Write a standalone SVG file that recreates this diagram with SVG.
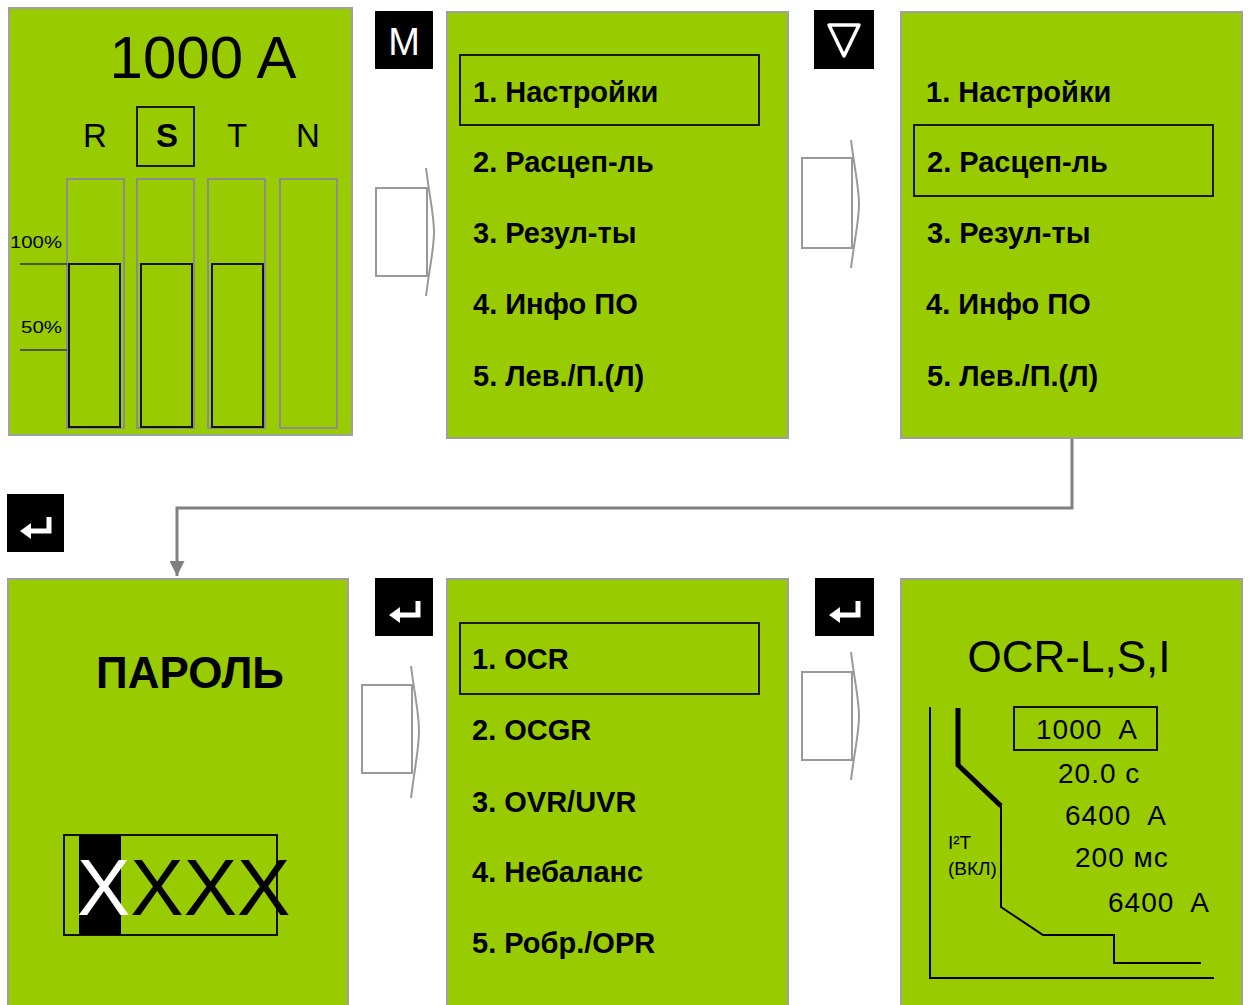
<svg xmlns="http://www.w3.org/2000/svg" width="1249" height="1005" viewBox="0 0 1249 1005">
<defs>
<style>
.panel{fill:#99cc00;stroke:#a0a0a0;stroke-width:2}
.t{font-family:"Liberation Sans",Arial,sans-serif;fill:#000}
.mi{font-family:"Liberation Sans",Arial,sans-serif;font-size:29px;font-weight:bold;fill:#000}
.sel{fill:none;stroke:#1a1a1a;stroke-width:2}
.gbar{fill:none;stroke:#8c8c8c;stroke-width:2}
.bbar{fill:none;stroke:#111;stroke-width:2}
.icon{fill:#000}
.blk{fill:#fff;stroke:#999;stroke-width:2}
.chev{fill:none;stroke:#999;stroke-width:2}
.val{font-family:"Liberation Sans",Arial,sans-serif;font-size:28px;letter-spacing:1px;fill:#000}
</style>
<marker id="ah" viewBox="0 0 10 10" refX="10" refY="5" markerWidth="5" markerHeight="5" orient="auto" markerUnits="strokeWidth">
<path d="M0,0 L10,5 L0,10 z" fill="#808080"/>
</marker>
</defs>
<rect width="1249" height="1005" fill="#fff"/>

<g id="connectors">
<path d="M1072,438 V508 H177 V576" fill="none" stroke="#808080" stroke-width="3" marker-end="url(#ah)"/>
<g id="arrow1"><path class="blk" d="M376,188 H427 V276 H376 Z"/><path class="chev" d="M426,168 C430,200 434,215 434,232 C434,249 430,264 426,296"/></g>
<g id="arrow2"><path class="blk" d="M802,158 H852 V248 H802 Z"/><path class="chev" d="M851,140 C855,172 859,187 859,204 C859,221 855,236 851,268"/></g>
<g id="arrow3"><path class="blk" d="M362,685 H412 V773 H362 Z"/><path class="chev" d="M411,666 C415,698 419,713 419,731 C419,749 415,765 411,798"/></g>
<g id="arrow4"><path class="blk" d="M802,672 H852 V760 H802 Z"/><path class="chev" d="M851,652 C855,684 859,699 859,716 C859,733 855,748 851,780"/></g>
</g>

<g id="icon-m"><rect class="icon" x="375" y="11" width="58" height="58"/><text class="t" x="404" y="55" font-size="38" text-anchor="middle" style="fill:#fff">M</text></g>
<g id="icon-down"><rect class="icon" x="814" y="10" width="60" height="59"/><path d="M829,25 H859 L844,56 Z" fill="none" stroke="#fff" stroke-width="3.5" stroke-linejoin="round"/></g>
<g id="icon-enter1"><rect class="icon" x="7" y="494" width="57" height="58"/><path d="M49,517 V531 H29" fill="none" stroke="#fff" stroke-width="5"/><path d="M20,531 L31,523 V539 Z" fill="#fff"/></g>
<g id="icon-enter2"><rect class="icon" x="375" y="578" width="58" height="58"/><path d="M418,601 V615 H398" fill="none" stroke="#fff" stroke-width="5"/><path d="M389,615 L400,607 V623 Z" fill="#fff"/></g>
<g id="icon-enter3"><rect class="icon" x="815" y="578" width="59" height="58"/><path d="M858,601 V615 H838" fill="none" stroke="#fff" stroke-width="5"/><path d="M829,615 L840,607 V623 Z" fill="#fff"/></g>

<g id="panel-current">
<rect class="panel" x="9" y="8" width="343" height="427"/>
<text class="t" x="203" y="78" font-size="60" text-anchor="middle">1000 A</text>
<rect class="sel" x="137" y="107" width="57" height="59"/>
<text class="t" x="95" y="147" font-size="33" text-anchor="middle">R</text>
<text class="t" x="167" y="147" font-size="33" font-weight="bold" text-anchor="middle">S</text>
<text class="t" x="237" y="147" font-size="33" text-anchor="middle">T</text>
<text class="t" x="308" y="147" font-size="33" text-anchor="middle">N</text>
<rect class="gbar" x="67" y="179" width="57" height="249"/>
<rect class="gbar" x="137" y="179" width="57" height="249"/>
<rect class="gbar" x="208" y="179" width="57" height="249"/>
<rect class="gbar" x="280" y="179" width="57" height="249"/>
<rect class="bbar" x="69" y="264" width="51" height="163"/>
<rect class="bbar" x="141" y="264" width="51" height="163"/>
<rect class="bbar" x="212" y="264" width="51" height="163"/>
<line x1="20" y1="264" x2="67" y2="264" stroke="#333" stroke-width="1.5"/>
<line x1="20" y1="350" x2="67" y2="350" stroke="#333" stroke-width="1.5"/>
<text class="t" x="10" y="248" font-size="17" textLength="52" lengthAdjust="spacingAndGlyphs">100%</text>
<text class="t" x="21" y="333" font-size="17" textLength="41" lengthAdjust="spacingAndGlyphs">50%</text>
</g>

<g id="panel-menu1">
<rect class="panel" x="447" y="12" width="341" height="426"/>
<rect class="sel" x="460" y="55" width="299" height="70"/>
<text class="mi" x="473" y="102">1. Настройки</text>
<text class="mi" x="473" y="172">2. Расцеп-ль</text>
<text class="mi" x="473" y="243">3. Резул-ты</text>
<text class="mi" x="473" y="314">4. Инфо ПО</text>
<text class="mi" x="473" y="386">5. Лев./П.(Л)</text>
</g>

<g id="panel-menu2">
<rect class="panel" x="901" y="12" width="341" height="426"/>
<rect class="sel" x="914" y="125" width="299" height="71"/>
<text class="mi" x="926" y="102">1. Настройки</text>
<text class="mi" x="927" y="172">2. Расцеп-ль</text>
<text class="mi" x="927" y="243">3. Резул-ты</text>
<text class="mi" x="926" y="314">4. Инфо ПО</text>
<text class="mi" x="927" y="386">5. Лев./П.(Л)</text>
</g>

<g id="panel-password">
<rect class="panel" x="8" y="579" width="340" height="430"/>
<text class="t" x="190" y="688" font-size="44" font-weight="bold" text-anchor="middle">ПАРОЛЬ</text>
<rect x="64" y="835" width="213" height="100" fill="none" stroke="#111" stroke-width="2"/>
<rect x="79" y="835" width="42" height="100" fill="#000"/>
<text class="t" x="77" y="915" font-size="80"><tspan style="fill:#fff">X</tspan>XXX</text>
</g>

<g id="panel-menu3">
<rect class="panel" x="447" y="579" width="341" height="430"/>
<rect class="sel" x="460" y="623" width="299" height="71"/>
<text class="mi" x="472" y="669">1. OCR</text>
<text class="mi" x="472" y="740">2. OCGR</text>
<text class="mi" x="472" y="812">3. OVR/UVR</text>
<text class="mi" x="472" y="882">4. Небаланс</text>
<text class="mi" x="472" y="953">5. Робр./OPR</text>
</g>

<g id="panel-ocr">
<rect class="panel" x="901" y="579" width="341" height="430"/>
<text class="t" x="1069" y="672" font-size="44" text-anchor="middle">OCR-L,S,I</text>
<path d="M930,707 V978 H1214" fill="none" stroke="#000" stroke-width="2"/>
<path d="M958,708 V765 L1001,806" fill="none" stroke="#000" stroke-width="5"/>
<path d="M1001,806 V907 L1043,935 H1114 V963 H1201" fill="none" stroke="#000" stroke-width="2"/>
<rect x="1014" y="707" width="143" height="43" fill="none" stroke="#111" stroke-width="2"/>
<text class="val" x="1036" y="739" xml:space="preserve">1000  A</text>
<text class="val" x="1058" y="783">20.0 с</text>
<text class="val" x="1065" y="825" xml:space="preserve">6400  A</text>
<text class="val" x="1075" y="867">200 мс</text>
<text class="val" x="1108" y="912" xml:space="preserve">6400  A</text>
<text class="t" x="948" y="849" font-size="19">I²T</text>
<text class="t" x="948" y="875" font-size="19">(ВКЛ)</text>
</g>
</svg>
